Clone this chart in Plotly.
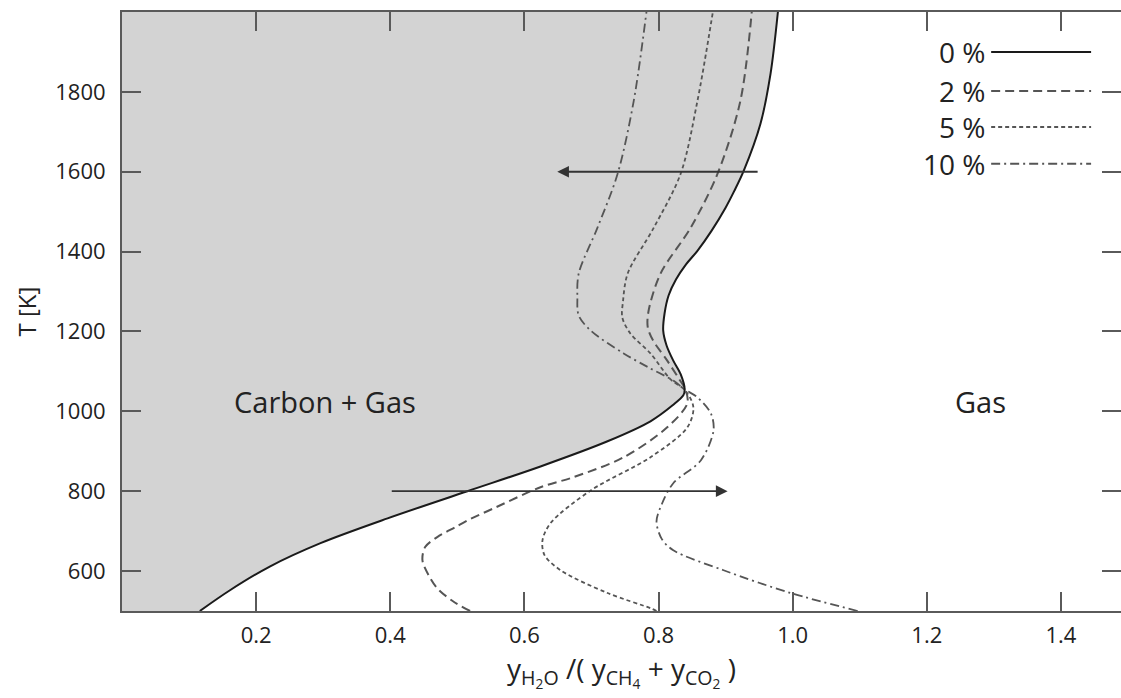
import plotly.graph_objects as go

# ---- data (x = y_H2O/(y_CH4+y_CO2), T in K) ----
x_0 = [0.116, 0.161, 0.221, 0.296, 0.396, 0.515, 0.624, 0.724, 0.788, 0.821, 0.837, 0.839,
       0.833, 0.822, 0.812, 0.807, 0.809, 0.815, 0.826, 0.841, 0.858, 0.879, 0.900, 0.913,
       0.927, 0.952, 0.967, 0.978]
T_0 = [500, 552, 612, 670, 732, 800, 862, 925, 975, 1015, 1040, 1055,
       1093, 1127, 1165, 1202, 1245, 1290, 1330, 1368, 1402, 1452, 1510, 1552,
       1602, 1720, 1845, 2000]

x_2 = [0.519, 0.493, 0.470, 0.457, 0.448, 0.452, 0.470, 0.497, 0.519, 0.558, 0.624, 0.673,
       0.748, 0.813, 0.843, 0.840, 0.831, 0.813, 0.792, 0.784, 0.785, 0.803, 0.848, 0.888,
       0.922, 0.939]
T_2 = [500, 525, 557, 590, 627, 660, 685, 710, 730, 760, 810, 835,
       885, 960, 1020, 1055, 1080, 1127, 1177, 1210, 1250, 1345, 1460, 1595,
       1777, 2000]

x_5 = [0.797, 0.788, 0.724, 0.654, 0.630, 0.627, 0.639, 0.699, 0.788, 0.843, 0.852,
       0.840, 0.818, 0.788, 0.758, 0.746, 0.747, 0.754, 0.793, 0.833, 0.858, 0.881]
T_5 = [500, 507, 545, 602, 640, 677, 720, 802, 885, 960, 1010,
       1052, 1080, 1145, 1195, 1235, 1275, 1345, 1460, 1595, 1777, 2000]

x_10 = [1.097, 0.997, 0.897, 0.822, 0.805, 0.797, 0.805, 0.822, 0.863, 0.882, 0.878, 0.858,
        0.839, 0.822, 0.785, 0.748, 0.699, 0.681, 0.679, 0.681, 0.709, 0.739, 0.763, 0.782]
T_10 = [500, 545, 602, 652, 680, 724, 768, 820, 877, 952, 995, 1035,
        1055, 1077, 1110, 1145, 1202, 1240, 1285, 1345, 1460, 1595, 1777, 2000]

legend_labels = ["0 %", "2 %", "5 %", "10 %"]
legend_T = [1900, 1802, 1712, 1620]
legend_x0, legend_x1, legend_text_x = 1.296, 1.445, 1.290

arrow_upper = {"tail": 0.95, "head": 0.649, "T": 1600}
arrow_lower = {"tail": 0.40, "head": 0.903, "T": 800}

region_labels = ["Carbon + Gas", "Gas"]
region_x = [0.303, 1.28]
region_T = [1025, 1025]

x_ticks = [0.2, 0.4, 0.6, 0.8, 1.0, 1.2, 1.4]
x_tick_text = ["0.2", "0.4", "0.6", "0.8", "1.0", "1.2", "1.4"]
y_ticks = [600, 800, 1000, 1200, 1400, 1600, 1800]
x_range = [0, 1.4896]
y_range = [500, 2000]

# ---- styling ----
FONT = "Open Sans"
AXIS = "#5a5a5a"
TXT = "#222222"
styles = [
    dict(color="#1a1a1a", width=2.0, dash="solid"),
    dict(color="#555555", width=2.0, dash="9px,5px"),
    dict(color="#555555", width=1.8, dash="4px,3px"),
    dict(color="#555555", width=1.8, dash="9px,4px,2px,4px"),
]
SMOOTH = 0.9

fig = go.Figure()

# grey carbon region (left of the 0 % boundary), filled horizontally to x = 0
fig.add_trace(go.Scatter(
    x=x_0, y=T_0, fill="tozerox", fillcolor="#d3d3d3", mode="lines",
    line=dict(width=0, color="rgba(0,0,0,0)", shape="spline", smoothing=SMOOTH),
    hoverinfo="skip"))

for xs, ts, st in [(x_10, T_10, styles[3]), (x_5, T_5, styles[2]),
                   (x_2, T_2, styles[1]), (x_0, T_0, styles[0])]:
    fig.add_trace(go.Scatter(x=xs, y=ts, mode="lines",
                             line=dict(color=st["color"], width=st["width"], dash=st["dash"],
                                       shape="spline", smoothing=SMOOTH),
                             hoverinfo="skip"))

# helper trace for right-hand tick marks
fig.add_trace(go.Scatter(x=[None], y=[None], yaxis="y2", mode="lines", hoverinfo="skip"))

annotations = []
for lab, xx, tt in zip(region_labels, region_x, region_T):
    annotations.append(dict(x=xx, y=tt, text=lab, showarrow=False,
                            font=dict(family=FONT, size=29, color=TXT)))
for lab, tt in zip(legend_labels, legend_T):
    annotations.append(dict(x=legend_text_x, y=tt, text=lab, showarrow=False, xanchor="right",
                            font=dict(family=FONT, size=28, color=TXT)))
for a in (arrow_upper, arrow_lower):
    annotations.append(dict(x=a["head"], y=a["T"], ax=a["tail"], ay=a["T"],
                            xref="x", yref="y", axref="x", ayref="y", text="",
                            showarrow=True, arrowhead=2, arrowsize=1.3, arrowwidth=1.8,
                            arrowcolor="#333333"))

shapes = []
for tt, st in zip(legend_T, styles):
    shapes.append(dict(type="line", xref="x", yref="y", x0=legend_x0, x1=legend_x1, y0=tt, y1=tt,
                       line=dict(color=st["color"], width=st["width"], dash=st["dash"])))

fig.update_layout(
    width=1121, height=698,
    margin=dict(l=122, r=0, t=12, b=87),
    paper_bgcolor="white", plot_bgcolor="white",
    showlegend=False,
    font=dict(family=FONT, color=TXT),
    annotations=annotations, shapes=shapes,
    xaxis=dict(range=x_range, tickvals=x_ticks, ticktext=x_tick_text,
               ticks="inside", ticklen=19, tickwidth=2, tickcolor=AXIS,
               showline=True, linecolor=AXIS, linewidth=2, mirror="ticks",
               showgrid=False, zeroline=False, ticklabelstandoff=4,
               tickfont=dict(family=FONT, size=22, color=TXT),
               title=dict(text="y<sub>H<sub>2</sub>O</sub> /( y<sub>CH<sub>4</sub></sub> + y<sub>CO<sub>2</sub></sub> )",
                          font=dict(family=FONT, size=28, color=TXT), standoff=2)),
    yaxis=dict(range=y_range, tickvals=y_ticks,
               ticks="inside", ticklen=19, tickwidth=2, tickcolor=AXIS,
               showline=True, linecolor=AXIS, linewidth=2, mirror=False,
               showgrid=False, zeroline=False, ticklabelstandoff=10,
               tickfont=dict(family=FONT, size=22, color=TXT),
               title=dict(text="T [K]", font=dict(family=FONT, size=24, color=TXT), standoff=12)),
    yaxis2=dict(range=y_range, tickvals=y_ticks, overlaying="y", side="right", anchor="x",
                ticks="inside", ticklen=19, tickwidth=2, tickcolor=AXIS,
                showline=False, showgrid=False, zeroline=False, showticklabels=False),
)

fig.write_html("out.html", config={"displayModeBar": False},
               post_script="document.body.style.margin='0';document.body.style.overflow='hidden';")
